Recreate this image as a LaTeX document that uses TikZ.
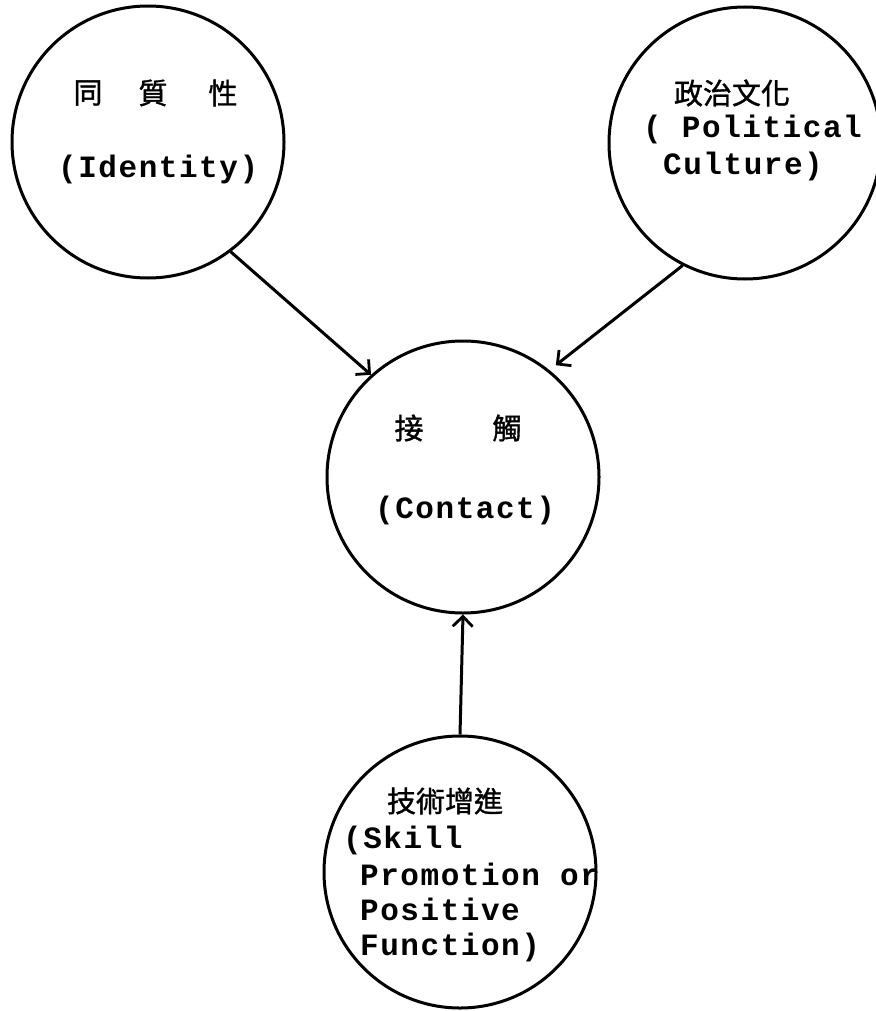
\documentclass[tikz,border=0pt]{standalone}
\usepackage{fontspec}
\newfontfamily\cjk[FakeBold=1.2]{Noto Sans CJK TC}
\newfontfamily\tw[LetterSpace=5]{Liberation Mono}
\usetikzlibrary{arrows.meta}
\begin{document}
\begin{tikzpicture}[x=1pt,y=-1pt,
  bubble/.style={circle,draw,line width=3pt,minimum size=272pt,inner sep=0pt},
  arr/.style={line width=3pt,-{Straight Barb[length=10pt,width=20pt,line width=2.8pt]}},
  cj/.style={inner sep=0pt,font=\cjk\fontsize{29}{32}\selectfont},
  en/.style={inner sep=0pt,anchor=base west,font=\tw\bfseries\fontsize{31}{34}\selectfont}]
\useasboundingbox (0,0) rectangle (875,1011);
\fill[white] (0,0) rectangle (875,1011);
% circles
\node[bubble] (c1) at (148,142) {};
\node[bubble] (c2) at (745,143) {};
\node[bubble] (c3) at (463,477) {};
\node[bubble] (c4) at (460,872) {};
% texts circle 1
\node[cj] (t1a) at (88,93) {同};
\node[cj] (t1b) at (153,93) {質};
\node[cj] (t1c) at (223,93) {性};
\node[en] (t1d) at (58,178) {(Identity)};
% circle 2
\node[cj] (t2a) at (732,93) {政治文化};
\node[en] (t2b) at (643,138) {( Political};
\node[en] (t2c) at (663,175) {Culture)};
% circle 3
\node[cj] (t3a) at (409,428) {接};
\node[cj] (t3b) at (507,428) {觸};
\node[en] (t3c) at (375,518) {(Contact)};
% circle 4
\node[cj] (t4a) at (445,801) {技術增進};
\node[en] (t4b) at (343,848) {(Skill};
\node[en] (t4c) at (360,885) {Promotion or};
\node[en] (t4d) at (360,920) {Positive};
\node[en] (t4e) at (360,955) {Function)};
% connectors
\draw[arr] (c1.-53) -- (c3.132);
\draw[arr,shorten >=8pt] (c2.243) -- (c3.51);
\draw[arr] (c4.north) -- (c3.south);
\end{tikzpicture}
\end{document}
